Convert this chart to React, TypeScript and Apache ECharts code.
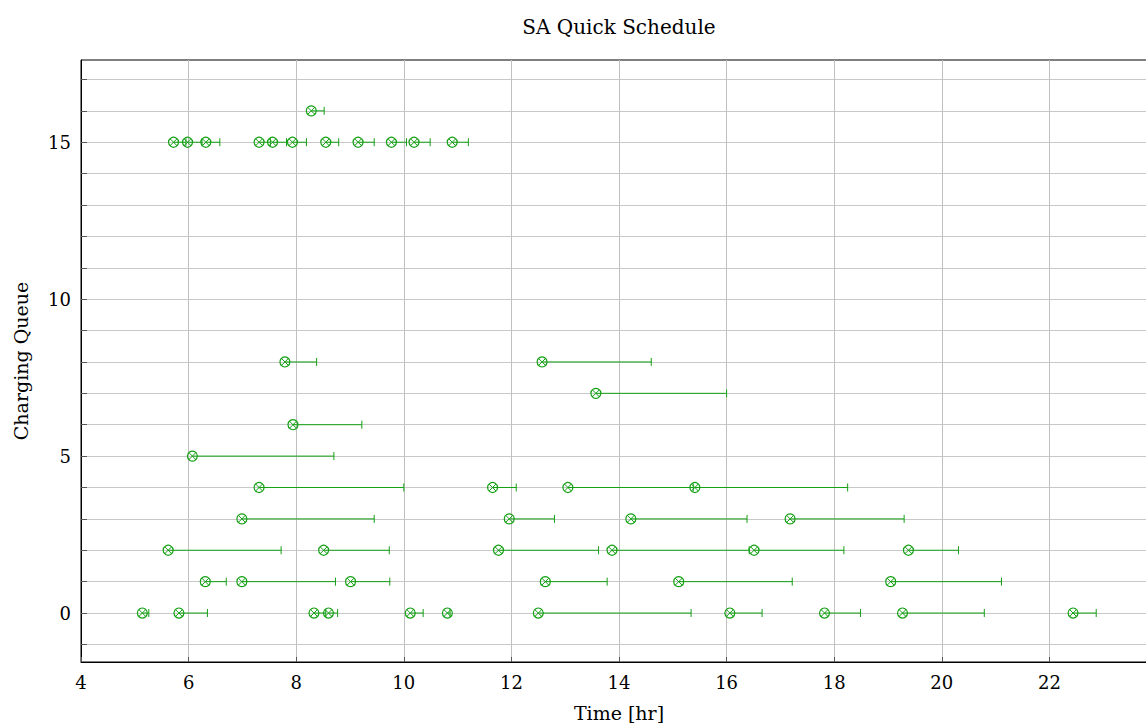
import React, { useEffect, useRef } from "react";
import * as echarts from "echarts";

// Charging queue index for each charging session
const queueIndex: number[] = [
  0, 0, 0, 0, 0, 0, 0, 0, 0, 0, 0,
  1, 1, 1, 1, 1, 1,
  2, 2, 2, 2, 2, 2,
  3, 3, 3, 3,
  4, 4, 4, 4,
  5,
  6,
  7,
  8, 8,
  15, 15, 15, 15, 15, 15, 15, 15, 15, 15, 15,
  16,
];

// Start time of each session [hr]
const startTimes: number[] = [
  5.14, 5.82, 8.33, 8.6, 10.12, 10.81, 12.5, 16.06, 17.82, 19.27, 22.44,
  6.31, 6.99, 9.01, 12.63, 15.11, 19.05,
  5.62, 8.51, 11.76, 13.87, 16.51, 19.38,
  6.99, 11.96, 14.22, 17.18,
  7.31, 11.65, 13.05, 15.41,
  6.07,
  7.94,
  13.57,
  7.79, 12.57,
  5.72, 5.98, 6.32, 7.31, 7.56, 7.93, 8.55, 9.15, 9.77, 10.19, 10.9,
  8.28,
];

// End time of each session [hr]
const endTimes: number[] = [
  5.26, 6.35, 8.55, 8.77, 10.36, 10.86, 15.34, 16.66, 18.49, 20.79, 22.87,
  6.7, 8.73, 9.74, 13.78, 17.22, 21.11,
  7.72, 9.73, 13.62, 16.42, 18.18, 20.31,
  9.45, 12.8, 16.38, 19.3,
  10.0, 12.09, 15.38, 18.25,
  8.7,
  9.22,
  16.0,
  8.38, 14.6,
  5.95, 6.25, 6.58, 7.52, 7.82, 8.19, 8.79, 9.45, 10.05, 10.49, 11.2,
  8.52,
];

const xTicks: number[] = [4, 6, 8, 10, 12, 14, 16, 18, 20, 22];
const yLabelTicks: number[] = [0, 5, 10, 15];
const yMinorTicks: number[] = [-1, 0, 1, 2, 3, 4, 5, 6, 7, 8, 9, 10, 11, 12, 13, 14, 15, 16, 17];

const GREEN = "#14a014";
const FONT = "DejaVu Serif";

export default function App() {
  const ref = useRef<HTMLDivElement>(null);

  useEffect(() => {
    if (!ref.current) return;
    const chart = echarts.init(ref.current, undefined, { renderer: "svg" });

    const data = queueIndex.map((q, i) => [startTimes[i], endTimes[i], q]);

    const option: any = {
      animation: false,
      backgroundColor: "#ffffff",
      textStyle: { fontFamily: FONT },
      grid: {
        left: 81,
        right: -11,
        top: 60,
        bottom: 64,
        containLabel: false,
        outerBoundsMode: "none",
        show: true,
        borderColor: "#000000",
        borderWidth: 1,
        backgroundColor: "transparent",
      },
      graphic: [
        {
          type: "text",
          x: 619,
          y: 27,
          style: {
            text: "SA Quick Schedule",
            textAlign: "center",
            textVerticalAlign: "middle",
            fontFamily: FONT,
            fontSize: 20,
            fill: "#000000",
          },
        },
      ],
      xAxis: {
        type: "value",
        min: 4,
        max: 24,
        interval: 2,
        name: "Time [hr]",
        nameLocation: "middle",
        nameGap: 41,
        nameTextStyle: { fontFamily: FONT, fontSize: 19, color: "#000" },
        axisLine: { show: true, onZero: false, lineStyle: { color: "#000", width: 1 } },
        axisTick: { show: true, inside: true, length: 5, lineStyle: { color: "#555" } },
        axisLabel: {
          margin: 11,
          fontFamily: FONT,
          fontSize: 18,
          color: "#000",
          customValues: xTicks,
        },
        splitLine: { show: true, lineStyle: { color: "#c0c0c0", width: 1 } },
      },
      yAxis: {
        type: "value",
        min: -1.56,
        max: 17.62,
        name: "Charging Queue",
        nameLocation: "middle",
        nameGap: 51,
        nameRotate: 90,
        nameTextStyle: { fontFamily: FONT, fontSize: 19, color: "#000" },
        axisLine: { show: true, onZero: false, lineStyle: { color: "#000", width: 1 } },
        axisTick: {
          show: true,
          inside: true,
          length: 6,
          customValues: yMinorTicks,
          lineStyle: { color: "#555" },
        },
        axisLabel: {
          margin: 10,
          fontFamily: FONT,
          fontSize: 18,
          color: "#000",
          customValues: yLabelTicks,
        },
        splitLine: { show: true, lineStyle: { color: "#c8c8c8", width: 1 } },
      },
      series: [
        {
          type: "custom",
          data,
          encode: { x: [0, 1], y: 2 },
          clip: false,
          renderItem: (params: any, api: any) => {
            const s = api.coord([api.value(0), api.value(2)]);
            const e = api.coord([api.value(1), api.value(2)]);
            const r = 5;
            const cap = 4;
            const d = r * 0.7071;
            const st = { stroke: GREEN, lineWidth: 1, fill: "none" };
            return {
              type: "group",
              children: [
                { type: "line", shape: { x1: s[0], y1: s[1], x2: e[0], y2: e[1] }, style: st },
                { type: "line", shape: { x1: e[0], y1: e[1] - cap, x2: e[0], y2: e[1] + cap }, style: st },
                { type: "circle", shape: { cx: s[0], cy: s[1], r }, style: { stroke: GREEN, lineWidth: 1.2, fill: "rgba(255,255,255,0)" } },
                { type: "line", shape: { x1: s[0] - d, y1: s[1] - d, x2: s[0] + d, y2: s[1] + d }, style: st },
                { type: "line", shape: { x1: s[0] - d, y1: s[1] + d, x2: s[0] + d, y2: s[1] - d }, style: st },
              ],
            };
          },
        },
      ],
    };

    chart.setOption(option);
    return () => {
      chart.dispose();
    };
  }, []);

  return (
    <div
      ref={ref}
      style={{ position: "fixed", left: 0, top: 0, width: 1146, height: 726 }}
    />
  );
}
